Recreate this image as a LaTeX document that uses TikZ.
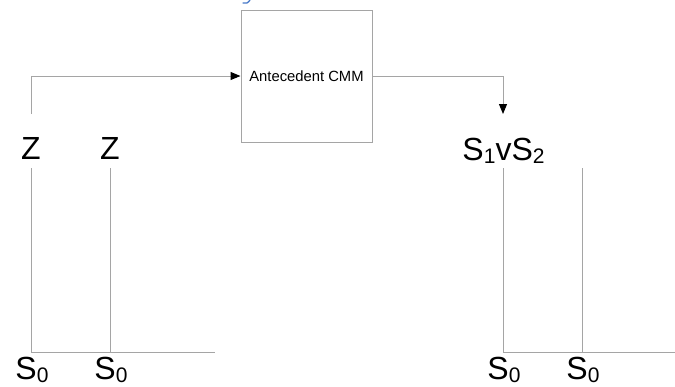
\documentclass[tikz,border=0pt]{standalone}
\usepackage{fontspec}
\setmainfont{Liberation Sans}
\usetikzlibrary{arrows.meta}
\definecolor{wire}{RGB}{165,165,165}
\definecolor{capblue}{RGB}{70,120,200}
\tikzset{
  wireline/.style={draw=wire, line width=1pt},
  flow/.style={wireline, -{Triangle[length=10pt,width=8pt,color=black]}},
  bigsym/.style={inner sep=0pt, anchor=base, font=\fontsize{32}{36}\selectfont},
  cmmbox/.style={draw=wire, line width=1pt, minimum width=131pt, minimum height=132pt,
                 inner sep=0pt, font=\fontsize{14.8}{17}\selectfont},
}
% lowered index digit
\newcommand{\lo}[1]{\raisebox{-3.5pt}{\fontsize{21}{24}\selectfont #1}}
\begin{document}
\begin{tikzpicture}[x=1pt,y=-1pt]
  \useasboundingbox (0,0) rectangle (675,386);

  % central memory block
  \node[cmmbox] (cmm) at (306.5,76) {Antecedent CMM};

  % symbols (placed on their baselines)
  \node[bigsym] (z1) at (31,159) {Z};
  \node[bigsym] (z2) at (110,159) {Z};
  \node[bigsym] (s12) at (503.5,160) {S\lo{1}vS\lo{2}};
  \node[bigsym] (a0) at (32,379) {S\lo{0}};
  \node[bigsym] (b0) at (111,379) {S\lo{0}};
  \node[bigsym] (c0) at (504,379) {S\lo{0}};
  \node[bigsym] (d0) at (583,379) {S\lo{0}};

  % wire end points
  \coordinate (z1up)  at (31,114);
  \coordinate (z1dn)  at (31,168);
  \coordinate (z2dn)  at (110,168);
  \coordinate (a0up)  at (31,352);
  \coordinate (b0up)  at (110,352);
  \coordinate (lend)  at (215,352);
  \coordinate (s12up) at (503,114);
  \coordinate (s12dn) at (503,168);
  \coordinate (rdn)   at (582,168);
  \coordinate (c0up)  at (503,352);
  \coordinate (d0up)  at (582,352);
  \coordinate (rend)  at (675,352);

  % flows through the block
  \draw[flow] (z1up) |- (cmm.west);
  \draw[flow] (cmm.east) -| (s12up);

  % left tree
  \draw[wireline] (z1dn) -- (a0up) -- (lend);
  \draw[wireline] (z2dn) -- (b0up);

  % right tree
  \draw[wireline] (s12dn) -- (c0up) -- (rend);
  \draw[wireline] (rdn) -- (d0up);

  % glyph tail at the top edge
  \draw[capblue, line width=1.3pt, line cap=round] (250,0) .. controls (248,3) and (246,4) .. (243,3);
\end{tikzpicture}
\end{document}
